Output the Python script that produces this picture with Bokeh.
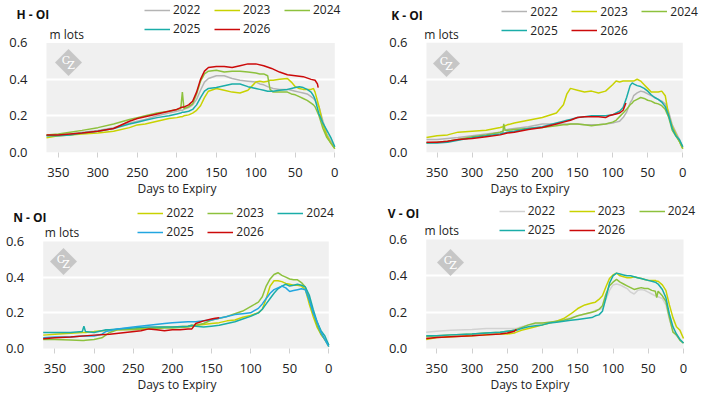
from bokeh.plotting import figure
from bokeh.models import (Range1d, FixedTicker, Legend, LegendItem, Label, BoxAnnotation,
                          PolyAnnotation, NumeralTickFormatter)
from bokeh.layouts import column, row
from bokeh.embed import file_html
from bokeh.resources import INLINE

X_TICKS = [0, 50, 100, 150, 200, 250, 300, 350]
Y_TICKS = [0.0, 0.2, 0.4, 0.6]
GRID_TICKS = [0.2, 0.4]

# ---------------- H ----------------
H_DAYS = [365, 350, 335, 320, 300, 280, 260, 250, 240, 225, 210, 200, 195, 193, 191, 185, 180, 175, 170, 165,
          160, 150, 140, 130, 120, 110, 100, 95, 90, 85, 82, 78, 70, 60, 55, 50, 45, 40, 35, 30, 27, 25, 20, 15,
          10, 5, 0]
H_2022 = [0.09, 0.095, 0.10, 0.11, 0.12, 0.135, 0.16, 0.17, 0.18, 0.20, 0.215, 0.225, 0.23, 0.23, 0.235, 0.245,
          0.26, 0.29, 0.34, 0.385, 0.405, 0.42, 0.42, 0.405, 0.395, 0.39, 0.385, 0.375, 0.37, 0.36, 0.355, 0.35,
          0.345, 0.345, 0.34, 0.335, 0.33, 0.325, 0.32, 0.305, 0.295, 0.285, 0.25, 0.17, 0.10, 0.06, 0.03]
H_2023 = [0.08, 0.09, 0.095, 0.10, 0.105, 0.115, 0.135, 0.15, 0.155, 0.17, 0.185, 0.19, 0.195, 0.195, 0.20,
          0.205, 0.215, 0.23, 0.255, 0.30, 0.335, 0.35, 0.34, 0.33, 0.325, 0.34, 0.385, 0.39, 0.385, 0.39, 0.395,
          0.395, 0.40, 0.405, 0.385, 0.36, 0.35, 0.345, 0.345, 0.345, 0.35, 0.33, 0.25, 0.15, 0.09, 0.05, 0.02]
H_2024 = [0.095, 0.10, 0.11, 0.12, 0.135, 0.155, 0.18, 0.19, 0.20, 0.215, 0.225, 0.235, 0.24, 0.33, 0.24, 0.25,
          0.265, 0.32, 0.39, 0.43, 0.445, 0.45, 0.44, 0.445, 0.445, 0.44, 0.435, 0.43, 0.43, 0.42, 0.345, 0.33,
          0.33, 0.33, 0.32, 0.315, 0.305, 0.295, 0.285, 0.27, 0.26, 0.25, 0.20, 0.13, 0.08, 0.05, 0.02]
H_2025 = [0.09, 0.09, 0.095, 0.105, 0.115, 0.13, 0.155, 0.165, 0.175, 0.19, 0.20, 0.21, 0.215, 0.22, 0.22, 0.225,
          0.235, 0.26, 0.30, 0.335, 0.35, 0.355, 0.365, 0.375, 0.375, 0.36, 0.35, 0.345, 0.34, 0.335, 0.335, 0.335,
          0.34, 0.345, 0.35, 0.355, 0.36, 0.355, 0.345, 0.33, 0.31, 0.29, 0.21, 0.16, 0.12, 0.08, 0.03]
H_DAYS_2026 = [365, 350, 335, 320, 300, 280, 260, 250, 240, 225, 210, 200, 195, 190, 185, 180, 175, 170, 165, 160,
               150, 140, 130, 120, 110, 100, 90, 80, 70, 60, 50, 40, 30, 25, 22, 21]
H_2026 = [0.095, 0.095, 0.10, 0.105, 0.115, 0.13, 0.17, 0.185, 0.195, 0.21, 0.225, 0.235, 0.245, 0.25, 0.26,
          0.28, 0.33, 0.40, 0.445, 0.465, 0.47, 0.47, 0.465, 0.475, 0.485, 0.485, 0.475, 0.46, 0.44, 0.425, 0.42,
          0.415, 0.40, 0.395, 0.375, 0.355]

# ---------------- K ----------------
K_DAYS = [365, 350, 335, 320, 300, 280, 260, 256, 255, 253, 250, 240, 220, 200, 180, 170, 165, 160, 150, 140, 130,
          120, 110, 100, 95, 90, 85, 80, 75, 72, 70, 65, 60, 55, 50, 45, 40, 35, 30, 25, 20, 15, 10, 5, 0]
K_2022 = [0.07, 0.07, 0.075, 0.08, 0.09, 0.10, 0.11, 0.115, 0.12, 0.12, 0.125, 0.13, 0.14, 0.155, 0.155, 0.155,
          0.155, 0.155, 0.155, 0.15, 0.15, 0.15, 0.155, 0.16, 0.165, 0.17, 0.19, 0.22, 0.27, 0.29, 0.31, 0.325,
          0.335, 0.33, 0.32, 0.31, 0.30, 0.29, 0.28, 0.265, 0.22, 0.15, 0.11, 0.07, 0.03]
K_2023 = [0.08, 0.09, 0.095, 0.11, 0.115, 0.12, 0.135, 0.14, 0.145, 0.145, 0.15, 0.16, 0.175, 0.19, 0.215, 0.26,
          0.32, 0.35, 0.34, 0.33, 0.335, 0.325, 0.335, 0.37, 0.39, 0.385, 0.39, 0.39, 0.39, 0.39, 0.39, 0.40,
          0.39, 0.37, 0.35, 0.33, 0.33, 0.33, 0.335, 0.31, 0.20, 0.14, 0.10, 0.06, 0.02]
K_2024 = [0.05, 0.055, 0.06, 0.07, 0.085, 0.095, 0.11, 0.115, 0.155, 0.12, 0.12, 0.125, 0.13, 0.135, 0.145, 0.15,
          0.15, 0.155, 0.155, 0.15, 0.145, 0.15, 0.155, 0.165, 0.175, 0.195, 0.215, 0.235, 0.26, 0.27, 0.28, 0.29,
          0.30, 0.295, 0.285, 0.28, 0.27, 0.265, 0.255, 0.235, 0.19, 0.12, 0.09, 0.06, 0.02]
K_2025 = [0.05, 0.05, 0.055, 0.065, 0.08, 0.09, 0.10, 0.105, 0.105, 0.105, 0.11, 0.115, 0.13, 0.14, 0.16, 0.17,
          0.175, 0.18, 0.19, 0.195, 0.20, 0.20, 0.20, 0.205, 0.215, 0.225, 0.245, 0.30, 0.365, 0.38, 0.375, 0.365,
          0.36, 0.35, 0.335, 0.315, 0.30, 0.29, 0.275, 0.25, 0.20, 0.13, 0.09, 0.07, 0.03]
K_DAYS_2026 = [365, 350, 335, 320, 300, 280, 260, 250, 240, 220, 200, 180, 170, 160, 150, 140, 130, 120, 110, 105,
               100, 95, 90, 85, 81]
K_2026 = [0.055, 0.055, 0.06, 0.07, 0.075, 0.085, 0.095, 0.105, 0.11, 0.125, 0.135, 0.155, 0.165, 0.175, 0.19,
          0.195, 0.195, 0.195, 0.19, 0.20, 0.205, 0.21, 0.215, 0.23, 0.27]

# ---------------- N ----------------
N_DAYS = [365, 350, 330, 315, 313, 311, 300, 290, 285, 280, 270, 250, 230, 210, 200, 180, 175, 170, 160, 150, 140,
          130, 120, 110, 100, 90, 85, 80, 75, 70, 65, 60, 55, 50, 45, 40, 35, 30, 25, 20, 15, 10, 5, 0]
N_2022 = [0.075, 0.08, 0.085, 0.09, 0.09, 0.09, 0.095, 0.10, 0.10, 0.105, 0.105, 0.11, 0.115, 0.12, 0.12, 0.125,
          0.13, 0.13, 0.135, 0.14, 0.145, 0.155, 0.16, 0.175, 0.185, 0.20, 0.22, 0.28, 0.35, 0.38, 0.38, 0.375,
          0.365, 0.36, 0.355, 0.355, 0.35, 0.33, 0.25, 0.18, 0.12, 0.08, 0.05, 0.01]
N_2023 = [0.05, 0.05, 0.048, 0.045, 0.045, 0.046, 0.05, 0.06, 0.075, 0.09, 0.105, 0.105, 0.11, 0.115, 0.115, 0.12,
          0.125, 0.13, 0.14, 0.16, 0.17, 0.18, 0.195, 0.21, 0.235, 0.26, 0.29, 0.35, 0.39, 0.415, 0.425, 0.41,
          0.40, 0.39, 0.385, 0.385, 0.37, 0.345, 0.28, 0.20, 0.13, 0.08, 0.05, 0.02]
N_2024 = [0.09, 0.09, 0.09, 0.095, 0.125, 0.095, 0.09, 0.10, 0.105, 0.105, 0.11, 0.115, 0.12, 0.12, 0.12, 0.125,
          0.13, 0.125, 0.12, 0.125, 0.13, 0.14, 0.15, 0.165, 0.18, 0.20, 0.22, 0.25, 0.28, 0.31, 0.335, 0.35,
          0.36, 0.35, 0.355, 0.36, 0.355, 0.345, 0.30, 0.22, 0.15, 0.10, 0.07, 0.02]
N_2025 = [0.06, 0.065, 0.065, 0.07, 0.07, 0.07, 0.07, 0.08, 0.095, 0.10, 0.11, 0.12, 0.13, 0.14, 0.145, 0.15,
          0.15, 0.15, 0.155, 0.16, 0.17, 0.18, 0.19, 0.195, 0.20, 0.225, 0.25, 0.28, 0.31, 0.33, 0.34, 0.35,
          0.34, 0.32, 0.325, 0.33, 0.335, 0.33, 0.27, 0.20, 0.15, 0.09, 0.05, 0.01]
N_DAYS_2026 = [365, 350, 330, 300, 280, 260, 240, 230, 220, 210, 200, 190, 180, 175, 170, 160, 150, 145, 140]
N_2026 = [0.055, 0.06, 0.065, 0.075, 0.08, 0.09, 0.10, 0.11, 0.105, 0.10, 0.105, 0.105, 0.11, 0.11, 0.14, 0.155,
          0.165, 0.17, 0.172]

# ---------------- V ----------------
V_DAYS = [365, 350, 330, 300, 280, 260, 250, 240, 237, 230, 220, 210, 200, 190, 180, 170, 160, 150, 140, 130, 125,
          120, 115, 110, 105, 100, 95, 90, 85, 80, 75, 70, 65, 60, 55, 50, 45, 40, 38, 36, 30, 25, 20, 15, 10, 5, 0]
V_2022 = [0.09, 0.095, 0.10, 0.105, 0.11, 0.11, 0.11, 0.11, 0.11, 0.12, 0.13, 0.135, 0.14, 0.145, 0.15, 0.16,
          0.17, 0.18, 0.19, 0.20, 0.21, 0.215, 0.22, 0.27, 0.32, 0.35, 0.355, 0.35, 0.34, 0.33, 0.31, 0.30, 0.32,
          0.325, 0.32, 0.31, 0.30, 0.29, 0.29, 0.285, 0.275, 0.24, 0.16, 0.10, 0.07, 0.05, 0.03]
V_2023 = [0.05, 0.06, 0.065, 0.07, 0.075, 0.08, 0.08, 0.085, 0.09, 0.10, 0.11, 0.12, 0.13, 0.14, 0.15, 0.165,
          0.19, 0.22, 0.24, 0.25, 0.255, 0.27, 0.29, 0.34, 0.385, 0.405, 0.415, 0.40, 0.395, 0.39, 0.39, 0.395,
          0.39, 0.385, 0.38, 0.375, 0.375, 0.375, 0.37, 0.37, 0.35, 0.32, 0.24, 0.17, 0.12, 0.10, 0.055]
V_2024 = [0.065, 0.07, 0.075, 0.08, 0.085, 0.09, 0.095, 0.10, 0.105, 0.115, 0.13, 0.14, 0.14, 0.145, 0.15, 0.155,
          0.165, 0.18, 0.19, 0.20, 0.205, 0.215, 0.235, 0.30, 0.345, 0.365, 0.38, 0.365, 0.355, 0.345, 0.335,
          0.325, 0.33, 0.335, 0.33, 0.33, 0.32, 0.315, 0.28, 0.315, 0.29, 0.26, 0.17, 0.09, 0.075, 0.045, 0.03]
V_2025 = [0.07, 0.07, 0.075, 0.08, 0.085, 0.09, 0.095, 0.10, 0.10, 0.11, 0.12, 0.125, 0.13, 0.14, 0.145, 0.15,
          0.155, 0.16, 0.165, 0.17, 0.18, 0.185, 0.205, 0.28, 0.36, 0.40, 0.415, 0.41, 0.405, 0.40, 0.40, 0.395,
          0.39, 0.385, 0.38, 0.375, 0.37, 0.365, 0.36, 0.355, 0.325, 0.28, 0.19, 0.12, 0.08, 0.05, 0.03]
V_DAYS_2026 = [365, 350, 330, 300, 280, 260, 250, 240, 237]
V_2026 = [0.055, 0.06, 0.065, 0.07, 0.075, 0.08, 0.085, 0.095, 0.105]

GRAY, LGRAY, YEL, GRN, TEAL, BLUE, RED = ("#b4b4b4", "#d2d2d2", "#c8d200", "#8dc13d",
                                          "#1aada8", "#22a6e0", "#cc0a0a")
FONT = "Open Sans"
TXT = "#222222"
X_MAX, Y_MAX = 365, 0.6


def panel(title, series, colors, W, H, B, box, t_pos, m_pos, l_pos, logo):
    """box = (left, right, top, bottom) of the grey plot area in canvas pixels."""
    bl, br, bt, bb = box
    fh = H - B
    k = X_MAX / (br - bl)
    m = Y_MAX / (bb - bt)
    p = figure(width=W, height=H, output_backend="svg", toolbar_location=None,
               x_range=Range1d(X_MAX + bl * k, -(W - br) * k),
               y_range=Range1d(-(fh - bb) * m, Y_MAX + bt * m),
               min_border_left=0, min_border_right=0, min_border_top=0, min_border_bottom=B)
    p.background_fill_color = "white"
    p.border_fill_color = "white"
    p.outline_line_color = None
    p.add_layout(BoxAnnotation(left=X_MAX, right=0, bottom=0, top=Y_MAX, fill_color="#f0f0f0",
                               fill_alpha=1, line_color=None, level="image"))
    p.xgrid.visible = False
    p.ygrid.grid_line_color = "white"
    p.ygrid.grid_line_width = 2
    p.ygrid.ticker = FixedTicker(ticks=GRID_TICKS)

    p.xaxis.ticker = FixedTicker(ticks=X_TICKS)
    p.xaxis.axis_label = "Days to Expiry"
    p.xaxis.axis_label_text_font = FONT
    p.xaxis.axis_label_text_font_style = "normal"
    p.xaxis.axis_label_text_font_size = "12px"
    p.xaxis.axis_label_text_color = TXT
    p.xaxis.axis_label_standoff = 0
    p.xaxis.axis_line_color = None
    p.xaxis.major_tick_line_color = "#d0d0d0"
    p.xaxis.major_tick_out = 0
    p.xaxis.major_tick_in = 5
    p.xaxis.minor_tick_line_color = None
    p.xaxis.major_label_standoff = 10

    p.yaxis.fixed_location = X_MAX
    p.yaxis.ticker = FixedTicker(ticks=Y_TICKS)
    p.yaxis.formatter = NumeralTickFormatter(format="0.0")
    p.yaxis.axis_line_color = None
    p.yaxis.major_tick_line_color = None
    p.yaxis.minor_tick_line_color = None
    p.yaxis.major_label_standoff = 13
    for ax in (p.xaxis, p.yaxis):
        ax.major_label_text_font = FONT
        ax.major_label_text_font_size = "13px"
        ax.major_label_text_color = TXT

    items = []
    for (label, days, vals), col in zip(series, colors):
        r = p.line(days, vals, line_color=col, line_width=1.5)
        items.append(LegendItem(label=label, renderers=[r]))

    # logo (screen units measured from the frame's lower-left corner)
    cx, cy, hd = logo[0], fh - logo[1], 13.5
    p.add_layout(PolyAnnotation(xs=[cx - hd, cx, cx + hd, cx], ys=[cy, cy + hd, cy, cy - hd],
                                xs_units="screen", ys_units="screen", fill_color="#c6c6c6",
                                fill_alpha=1, line_color=None, level="underlay"))
    for ch, dx, dy in (("C", -2.5, 2.5), ("Z", 2.5, -2.5)):
        p.add_layout(Label(x=cx + dx, y=cy + dy, x_units="screen", y_units="screen", text=ch,
                           text_font="DejaVu Serif", text_font_size="11px", text_color="white",
                           text_align="center", text_baseline="middle"))

    p.add_layout(Label(x=t_pos[0], y=fh - t_pos[1], x_units="screen", y_units="screen", text=title,
                       text_font=FONT, text_font_style="bold", text_font_size="12px", text_color="#111111",
                       text_align="left", text_baseline="middle"))
    p.add_layout(Label(x=m_pos[0], y=fh - m_pos[1], x_units="screen", y_units="screen", text="m lots",
                       text_font=FONT, text_font_size="12px", text_color=TXT,
                       text_align="left", text_baseline="middle"))

    row_h, gap = 16, 2
    leg_h = 2 * row_h + gap
    leg = Legend(items=items, orientation="horizontal", ncols=3,
                 location=(l_pos[0], fh - (l_pos[1] - row_h / 2 + leg_h)),
                 glyph_width=26, glyph_height=row_h, label_height=row_h, label_width=39,
                 label_standoff=3, spacing=gap, padding=0, margin=0,
                 border_line_color=None, background_fill_alpha=0,
                 label_text_font=FONT, label_text_font_size="12px", label_text_color=TXT)
    p.add_layout(leg)
    return p


pH = panel("H - OI",
           [("2022", H_DAYS, H_2022), ("2023", H_DAYS, H_2023), ("2024", H_DAYS, H_2024),
            ("2025", H_DAYS, H_2025), ("2026", H_DAYS_2026, H_2026)],
           [GRAY, YEL, GRN, TEAL, RED], 353, 199, 41, (46, 334.3, 42.7, 152.7),
           (16, 15), (49, 35), (144, 12), (68, 63))
pK = panel("K - OI",
           [("2022", K_DAYS, K_2022), ("2023", K_DAYS, K_2023), ("2024", K_DAYS, K_2024),
            ("2025", K_DAYS, K_2025), ("2026", K_DAYS_2026, K_2026)],
           [GRAY, YEL, GRN, TEAL, RED], 353, 199, 42, (73, 329.3, 42.3, 151.7),
           (37.7, 15), (70.7, 34.3), (148.3, 12.7), (93, 63))
pN = panel("N - OI",
           [("2022", N_DAYS, N_2022), ("2023", N_DAYS, N_2023), ("2024", N_DAYS, N_2024),
            ("2025", N_DAYS, N_2025), ("2026", N_DAYS_2026, N_2026)],
           [YEL, GRN, TEAL, BLUE, RED], 353, 199, 45, (42.7, 328.3, 42, 149),
           (12.7, 18.3), (44.3, 33.3), (137.3, 15), (63, 62))
pV = panel("V - OI",
           [("2022", V_DAYS, V_2022), ("2023", V_DAYS, V_2023), ("2024", V_DAYS, V_2024),
            ("2025", V_DAYS, V_2025), ("2026", V_DAYS_2026, V_2026)],
           [LGRAY, YEL, GRN, TEAL, RED], 353, 199, 45, (72.7, 330, 40, 149),
           (34.3, 14), (71, 30.7), (145.7, 13.3), (97, 63))

layout = column(row(pH, pK), row(pN, pV))
open("out.html", "w").write(file_html(layout, INLINE))
